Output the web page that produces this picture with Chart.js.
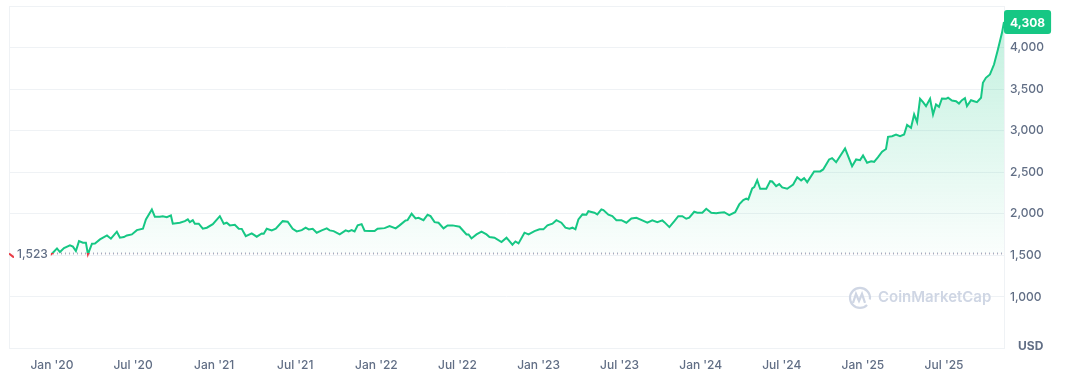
<!DOCTYPE html>
<html>
<head>
<meta charset="utf-8">
<script src="https://cdn.jsdelivr.net/npm/chart.js@4"></script>
<style>
  html, body { margin: 0; padding: 0; background: #fff; }
  #wrap { width: 1066px; height: 371px; position: relative; }
</style>
</head>
<body>
<div id="wrap"><canvas id="priceChart"></canvas></div>
<script>
// months since Jan 2020 (x) and price in USD (y)
const months = [
  -3.18, -2.88, -2.3, -1.3, -0.6, -0.15, 0.07, 0.37, 0.59, 0.89, 1.33, 1.55, 1.77, 2.0, 2.29, 2.51, 2.66,
  2.96, 3.18, 3.55, 4.07, 4.36, 4.80, 5.03, 5.32, 5.54, 5.91, 6.28, 6.73, 6.95, 7.39, 7.61, 7.98,
  8.20, 8.50, 8.80, 8.94, 9.46, 9.83, 10.05, 10.20, 10.42, 10.57, 10.86, 11.16, 11.46, 11.90, 12.42,
  12.71, 12.93, 13.16, 13.53, 13.82, 14.04, 14.34, 14.78, 15.15, 15.52, 15.67, 15.89, 16.26, 16.56,
  17.07, 17.44, 17.81, 18.11, 18.48, 18.77, 19.00, 19.29, 19.59, 19.96, 20.33, 20.55, 20.84, 21.29,
  21.73, 21.95, 22.17, 22.39, 22.62, 22.91, 23.13, 23.50, 23.87, 24.09, 24.61, 24.98, 25.43, 25.72,
  26.16, 26.31, 26.61, 26.90, 27.12, 27.49, 27.79, 28.01, 28.31, 28.60, 28.97, 29.27, 29.64, 30.16,
  30.67, 30.82, 31.04, 31.41, 31.78, 32.15, 32.37, 32.74, 33.26, 33.63, 34.07, 34.29, 34.52, 34.96,
  35.26, 35.70, 36.07, 36.36, 36.66, 37.03, 37.32, 37.69, 37.99, 38.29, 38.51, 38.73, 38.95, 39.25,
  39.54, 39.69, 40.13, 40.35, 40.65, 40.80, 41.17, 41.46, 41.76, 42.13, 42.50, 42.87, 43.24, 43.68,
  44.05, 44.42, 44.79, 45.16, 45.31, 45.68, 46.05, 46.34, 46.64, 46.93, 47.15, 47.52, 47.75, 48.12,
  48.41, 48.78, 49.15, 49.37, 49.74, 50.11, 50.55, 50.85, 51.15, 51.37, 51.52, 51.81, 51.96, 52.18,
  52.40, 52.85, 53.14, 53.29, 53.58, 53.81, 54.03, 54.40, 54.84, 55.14, 55.43, 55.65, 55.88, 56.39,
  56.84, 57.06, 57.50, 57.72, 58.02, 58.68, 59.20, 59.50, 59.79, 60.01, 60.31, 60.61, 60.83, 61.12,
  61.42, 61.71, 61.86, 62.16, 62.45, 62.75, 63.05, 63.27, 63.56, 63.79, 64.01, 64.23, 64.45, 64.67,
  64.97, 65.19, 65.41, 65.63, 65.85, 66.15, 66.30, 66.59, 66.89, 67.11, 67.33, 67.55, 67.70, 68.00,
  68.22, 68.44, 68.74, 68.88, 69.10, 69.40, 69.70, 69.99, 70.29, 70.44
]
const prices = [
  1523, 1482, 1470, 1475, 1490, 1500, 1532, 1584, 1540, 1588, 1620, 1605, 1552, 1672, 1653, 1653, 1514,
  1641, 1644, 1692, 1740, 1701, 1785, 1713, 1720, 1740, 1752, 1804, 1821, 1933, 2053, 1965, 1965,
  1972, 1960, 1981, 1881, 1893, 1912, 1933, 1900, 1924, 1881, 1881, 1821, 1833, 1876, 1972,
  1881, 1893, 1861, 1869, 1821, 1819, 1732, 1764, 1725, 1764, 1761, 1821, 1801, 1821,
  1912, 1905, 1821, 1788, 1804, 1833, 1813, 1821, 1773, 1801, 1825, 1801, 1792, 1752,
  1801, 1788, 1804, 1788, 1861, 1876, 1797, 1792, 1792, 1821, 1828, 1852, 1825, 1861,
  1921, 1924, 2001, 1945, 1953, 1924, 1989, 1972, 1900, 1893, 1825, 1861, 1861, 1845,
  1752, 1752, 1704, 1752, 1785, 1752, 1722, 1713, 1660, 1713, 1629, 1668, 1644, 1773,
  1752, 1792, 1813, 1813, 1861, 1881, 1924, 1893, 1833, 1821, 1833, 1813, 1933, 1993,
  1989, 2032, 2013, 1993, 2053, 2045, 1989, 1972, 1924, 1924, 1893, 1945, 1953, 1921,
  1893, 1921, 1900, 1921, 1900, 1840, 1912, 1972, 1972, 1941, 1953, 2025, 2013, 2013,
  2061, 2013, 2008, 2013, 2020, 1984, 2020, 2113, 2165, 2182, 2173, 2305, 2321, 2405,
  2302, 2302, 2393, 2389, 2333, 2357, 2317, 2302, 2353, 2441, 2402, 2429, 2381, 2510,
  2510, 2534, 2654, 2670, 2621, 2786, 2573, 2654, 2646, 2702, 2614, 2633, 2626, 2682,
  2747, 2780, 2927, 2934, 2954, 2934, 2954, 3069, 3035, 3195, 3102, 3384, 3343, 3295,
  3384, 3195, 3315, 3287, 3387, 3384, 3396, 3363, 3355, 3327, 3367, 3391, 3295, 3367,
  3355, 3343, 3396, 3576, 3636, 3676, 3796, 3976, 4177, 4308
]

const tickMonths = [0, 6, 12, 18, 24, 30, 36, 42, 48, 54, 60, 66]
const tickLabels = ["Jan '20", "Jul '20", "Jan '21", "Jul '21", "Jan '22", "Jul '22",
                    "Jan '23", "Jul '23", "Jan '24", "Jul '24", "Jan '25", "Jul '25"]
const priceTicks = [1000, 1500, 2000, 2500, 3000, 3500, 4000, 4500]

const basePrice = prices[0]
const lastPrice = prices[prices.length - 1]

const green = '#16c784'
const red = '#ea3943'
const axisGrey = '#616e85'
const fontFam = 'Inter, "Noto Sans", sans-serif'

function lineColor(ctx) {
    const chart = ctx.chart
    const area = chart.chartArea
    if (!area) return green
    const yb = chart.scales.y.getPixelForValue(basePrice)
    const t = Math.min(1, Math.max(0, (yb - area.top) / (area.bottom - area.top)))
    const g = chart.ctx.createLinearGradient(0, area.top, 0, area.bottom)
    g.addColorStop(0, green)
    g.addColorStop(t, green)
    g.addColorStop(t, red)
    g.addColorStop(1, red)
    return g
}

function fillColor(ctx) {
    const chart = ctx.chart
    const area = chart.chartArea
    if (!area) return 'rgba(22,199,132,0.1)'
    const yb = chart.scales.y.getPixelForValue(basePrice)
    const t = Math.min(1, Math.max(0, (yb - area.top) / (area.bottom - area.top)))
    const g = chart.ctx.createLinearGradient(0, area.top, 0, area.bottom)
    g.addColorStop(0, 'rgba(22,199,132,0.28)')
    g.addColorStop(t, 'rgba(22,199,132,0.02)')
    g.addColorStop(t, 'rgba(234,57,67,0.06)')
    g.addColorStop(1, 'rgba(234,57,67,0.06)')
    return g
}

// extra drawing: left border, baseline, start / last labels, watermark, USD
const decorations = {
    id: 'decorations',
    beforeDatasetsDraw(chart) {
        const { ctx, chartArea: a, scales } = chart
        ctx.save()
        // left border
        ctx.strokeStyle = '#eff2f5'
        ctx.lineWidth = 1
        ctx.beginPath()
        ctx.moveTo(a.left + 0.5, a.top)
        ctx.lineTo(a.left + 0.5, a.bottom)
        ctx.stroke()
        // watermark
        const wy = scales.y.getPixelForValue(1000)
        ctx.strokeStyle = '#cfd6e4'
        ctx.lineWidth = 2.2
        ctx.beginPath()
        ctx.arc(860, wy + 1, 10, 0.25 * Math.PI, 2.05 * Math.PI)
        ctx.stroke()
        ctx.beginPath()
        ctx.moveTo(853, wy + 6)
        ctx.lineTo(856, wy - 3)
        ctx.lineTo(859, wy + 4)
        ctx.lineTo(862, wy - 3)
        ctx.lineTo(865, wy + 6)
        ctx.stroke()
        ctx.fillStyle = '#cfd6e4'
        ctx.font = '600 15px ' + fontFam
        ctx.textBaseline = 'middle'
        ctx.textAlign = 'left'
        ctx.fillText('CoinMarketCap', 878, wy + 1)
        // baseline dotted
        const yb = Math.round(scales.y.getPixelForValue(basePrice)) + 0.5
        ctx.strokeStyle = '#a6b0c3'
        ctx.setLineDash([1, 3])
        ctx.beginPath()
        ctx.moveTo(a.left + 40, yb)
        ctx.lineTo(a.right, yb)
        ctx.stroke()
        ctx.restore()
    },
    afterDatasetsDraw(chart) {
        const { ctx, chartArea: a, scales } = chart
        ctx.save()
        // start label
        const yb = scales.y.getPixelForValue(basePrice)
        ctx.font = '500 12px ' + fontFam
        ctx.textBaseline = 'middle'
        ctx.textAlign = 'left'
        const txt = basePrice.toLocaleString('en-US')
        const w = ctx.measureText(txt).width
        ctx.fillStyle = '#fff'
        ctx.fillRect(a.left + 5, yb - 8, w + 6, 16)
        ctx.fillStyle = axisGrey
        ctx.fillText(txt, a.left + 8, yb + 1)
        // last price tag
        const yl = scales.y.getPixelForValue(lastPrice)
        const lt = lastPrice.toLocaleString('en-US')
        ctx.font = '700 12px ' + fontFam
        const lw = ctx.measureText(lt).width + 12
        ctx.fillStyle = green
        ctx.beginPath()
        ctx.roundRect(a.right, yl - 12, lw, 24, 3)
        ctx.fill()
        ctx.fillStyle = '#fff'
        ctx.textAlign = 'center'
        ctx.fillText(lt, a.right + lw / 2, yl + 1)
        // unit
        ctx.fillStyle = axisGrey
        ctx.font = '700 12px ' + fontFam
        ctx.textAlign = 'left'
        ctx.fillText('USD', a.right + 14, a.bottom - 2)
        ctx.restore()
    }
}

const ctx = document.getElementById('priceChart')

const chart = new Chart(ctx, {
    type: 'line',
    data: {
        datasets: [{
            label: 'Price',
            data: months.map((m, i) => ({ x: m, y: prices[i] })),
            borderColor: lineColor,
            backgroundColor: fillColor,
            borderWidth: 2,
            pointRadius: 0,
            tension: 0,
            fill: { target: { value: basePrice } }
        }]
    },
    plugins: [decorations],
    options: {
        responsive: true,
        maintainAspectRatio: false,
        animation: false,
        layout: { padding: { left: 9, top: 6, right: 0, bottom: 0 } },
        plugins: {
            legend: { display: false },
            tooltip: { enabled: false }
        },
        scales: {
            x: {
                type: 'linear',
                min: months[0],
                max: months[months.length - 1],
                afterBuildTicks: (s) => { s.ticks = tickMonths.map(v => ({ value: v })) },
                afterFit: (s) => { s.height = 23; s.paddingLeft = 0; s.paddingRight = 0 },
                ticks: {
                    autoSkip: false,
                    maxRotation: 0,
                    padding: 2,
                    color: axisGrey,
                    font: { family: fontFam, size: 12, weight: '500' },
                    callback: (v) => tickLabels[tickMonths.indexOf(v)]
                },
                grid: { display: false },
                border: { color: '#eff2f5' }
            },
            y: {
                position: 'right',
                min: 386,
                max: 4500,
                afterBuildTicks: (s) => { s.ticks = priceTicks.map(v => ({ value: v })) },
                afterFit: (s) => { s.width = 62; s.paddingTop = 0; s.paddingBottom = 0 },
                ticks: {
                    padding: 6,
                    color: axisGrey,
                    font: { family: fontFam, size: 12, weight: '500' },
                    callback: (v) => v >= 4500 ? '' : v.toLocaleString('en-US')
                },
                grid: { color: '#eff2f5', drawTicks: false },
                border: { color: '#eff2f5' }
            }
        }
    }
});
</script>
</body>
</html>
